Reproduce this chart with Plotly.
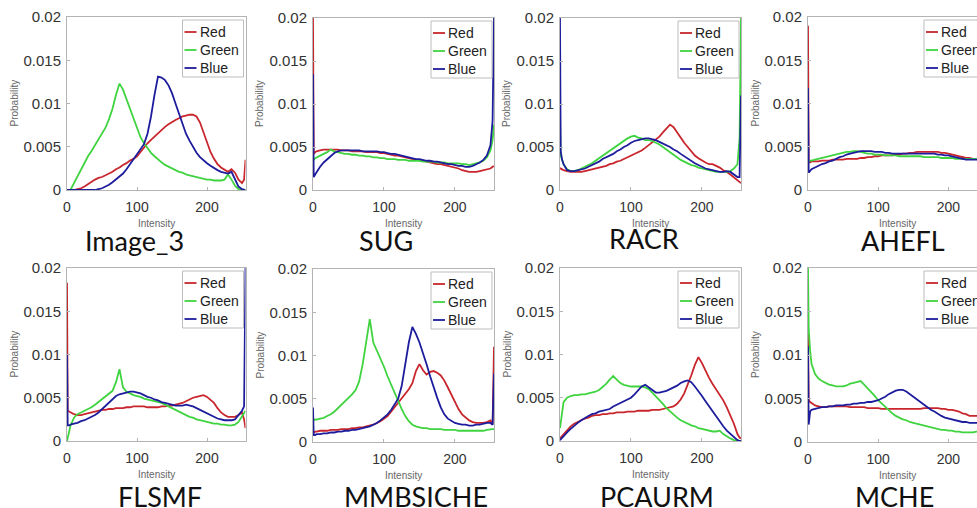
import plotly.graph_objects as go

# ---------------- data ----------------
intensity = [0, 1, 3, 5, 10, 15, 20, 25, 30, 35, 40, 45, 50, 55, 60, 65, 70, 75, 80, 85,
             90, 95, 100, 105, 110, 115, 120, 125, 130, 135, 140, 145, 150, 155, 160, 165,
             170, 175, 180, 185, 190, 195, 200, 205, 210, 215, 220, 225, 230, 235, 240, 245,
             250, 253, 255]

panel_titles = ["Image_3", "SUG", "RACR", "AHEFL", "FLSMF", "MMBSICHE", "PCAURM", "MCHE"]
channel_names = ["Red", "Green", "Blue"]

img3_red = [0, 0, 0, 0, 0, 0.0001, 0.0002, 0.0004, 0.0007, 0.001, 0.0012, 0.0014, 0.0015, 0.0017,
            0.0019, 0.0021, 0.0024, 0.0026, 0.0029, 0.0031, 0.0034, 0.0036, 0.0039, 0.0044, 0.005,
            0.0054, 0.0058, 0.0062, 0.0066, 0.007, 0.0073, 0.0076, 0.0079, 0.0081, 0.0083, 0.0085,
            0.0086, 0.0087, 0.0087, 0.0085, 0.0078, 0.0067, 0.0055, 0.0044, 0.0036, 0.003, 0.0026,
            0.0023, 0.0021, 0.0024, 0.002, 0.0012, 0.0008, 0.0012, 0.0035]
img3_green = [0, 0, 0, 0, 0.0008, 0.0016, 0.0024, 0.0032, 0.0039, 0.0045, 0.0052, 0.0058, 0.0065,
              0.0072, 0.0082, 0.0094, 0.011, 0.0123, 0.0116, 0.0105, 0.0093, 0.0081, 0.007, 0.0061,
              0.0054, 0.0048, 0.0043, 0.0039, 0.0035, 0.0032, 0.0029, 0.0027, 0.0025, 0.0023,
              0.0021, 0.002, 0.0018, 0.0017, 0.0016, 0.0015, 0.0014, 0.0013, 0.0012, 0.0012, 0.0011,
              0.0011, 0.0011, 0.0012, 0.0018, 0.0012, 0.0005, 0.0001, 0, 0, 0]
img3_blue = [0, 0, 0, 0, 0, 0, 0, 0, 0, 0, 0, 0.0001, 0.0002, 0.0004, 0.0006, 0.0009, 0.0012,
             0.0015, 0.0019, 0.0024, 0.003, 0.0036, 0.0042, 0.0047, 0.0053, 0.0065, 0.0085, 0.011,
             0.0131, 0.013, 0.0127, 0.0121, 0.0112, 0.01, 0.0088, 0.0076, 0.0065, 0.0057, 0.005,
             0.0043, 0.0038, 0.0034, 0.0031, 0.0028, 0.0025, 0.0023, 0.0021, 0.002, 0.0019, 0.0021,
             0.0012, 0.0004, 0.0001, 0, 0]

sug_red = [0.02, 0.0042, 0.0044, 0.0045, 0.0046, 0.0047, 0.0047, 0.0047, 0.0047, 0.0047, 0.0046,
           0.0046, 0.0046, 0.0045, 0.0045, 0.0045, 0.0045, 0.0044, 0.0044, 0.0044, 0.0044, 0.0043,
           0.0043, 0.0042, 0.0041, 0.004, 0.004, 0.0039, 0.0038, 0.0037, 0.0036, 0.0035, 0.0035,
           0.0034, 0.0033, 0.0032, 0.0031, 0.003, 0.003, 0.0029, 0.0028, 0.0027, 0.0026, 0.0025,
           0.0023, 0.0022, 0.0021, 0.0021, 0.0021, 0.0022, 0.0023, 0.0024, 0.0025, 0.0027, 0.0028]
sug_green = [0.0036, 0.0035, 0.0037, 0.0038, 0.004, 0.0042, 0.0044, 0.0047, 0.0045, 0.0044, 0.0043,
             0.0042, 0.0042, 0.0041, 0.0041, 0.004, 0.004, 0.0039, 0.0039, 0.0038, 0.0038, 0.0037,
             0.0037, 0.0036, 0.0036, 0.0036, 0.0035, 0.0035, 0.0035, 0.0034, 0.0034, 0.0034, 0.0034,
             0.0033, 0.0033, 0.0033, 0.0033, 0.0032, 0.0032, 0.0032, 0.0031, 0.0031, 0.0031, 0.0031,
             0.003, 0.003, 0.0029, 0.003, 0.0031, 0.0032, 0.0034, 0.0038, 0.0046, 0.0058, 0.0076]
sug_blue = [0.0135, 0.0015, 0.0018, 0.0021, 0.0027, 0.0032, 0.0036, 0.004, 0.0043, 0.0045, 0.0046,
            0.0046, 0.0046, 0.0046, 0.0046, 0.0046, 0.0045, 0.0045, 0.0045, 0.0045, 0.0045, 0.0044,
            0.0044, 0.0043, 0.0042, 0.0042, 0.0041, 0.004, 0.0039, 0.0038, 0.0037, 0.0036, 0.0036,
            0.0035, 0.0034, 0.0034, 0.0033, 0.0033, 0.0032, 0.0031, 0.003, 0.003, 0.0029, 0.0028,
            0.0028, 0.0027, 0.0027, 0.0028, 0.003, 0.0032, 0.0035, 0.004, 0.0052, 0.008, 0.02]

racr_red = [0.0025, 0.0025, 0.0024, 0.0023, 0.0022, 0.0021, 0.0021, 0.0021, 0.0021, 0.0022, 0.0023,
            0.0024, 0.0025, 0.0026, 0.0027, 0.0028, 0.003, 0.0031, 0.0033, 0.0034, 0.0036, 0.0038,
            0.004, 0.0042, 0.0044, 0.0046, 0.0049, 0.0052, 0.0055, 0.0058, 0.0062, 0.0067, 0.0072,
            0.0076, 0.0073, 0.0067, 0.006, 0.0055, 0.005, 0.0045, 0.004, 0.0037, 0.0034, 0.0032,
            0.003, 0.003, 0.0028, 0.0026, 0.0023, 0.0021, 0.0018, 0.0015, 0.0012, 0.001, 0.0008]
racr_green = [0.0085, 0.004, 0.0035, 0.003, 0.0024, 0.0022, 0.0022, 0.0023, 0.0025, 0.0027, 0.0029,
              0.0031, 0.0034, 0.0037, 0.004, 0.0043, 0.0046, 0.0049, 0.0052, 0.0055, 0.0058, 0.006,
              0.0062, 0.0063, 0.0061, 0.006, 0.0058, 0.0058, 0.0057, 0.0055, 0.0053, 0.005, 0.0047,
              0.0043, 0.004, 0.0037, 0.0035, 0.0033, 0.0031, 0.0029, 0.0028, 0.0026, 0.0025, 0.0024,
              0.0023, 0.0022, 0.0021, 0.0021, 0.0021, 0.0021, 0.0022, 0.0025, 0.003, 0.006, 0.02]
racr_blue = [0.02, 0.0045, 0.0035, 0.003, 0.0023, 0.0022, 0.0022, 0.0023, 0.0024, 0.0025, 0.0027,
             0.0029, 0.0031, 0.0033, 0.0036, 0.0038, 0.004, 0.0042, 0.0045, 0.0047, 0.005, 0.0052,
             0.0055, 0.0057, 0.0058, 0.0059, 0.006, 0.006, 0.0059, 0.0058, 0.0056, 0.0054, 0.0052,
             0.005, 0.0047, 0.0045, 0.0042, 0.0039, 0.0036, 0.0033, 0.0031, 0.0029, 0.0027, 0.0025,
             0.0024, 0.0023, 0.0022, 0.0021, 0.0021, 0.0022, 0.0021, 0.0018, 0.0015, 0.0015, 0.011]

ahefl_red = [0.019, 0.0032, 0.0032, 0.0033, 0.0033, 0.0033, 0.0034, 0.0034, 0.0034, 0.0035, 0.0035,
             0.0035, 0.0035, 0.0036, 0.0036, 0.0036, 0.0036, 0.0037, 0.0037, 0.0038, 0.0038, 0.0039,
             0.0039, 0.004, 0.004, 0.004, 0.004, 0.0041, 0.0041, 0.0042, 0.0042, 0.0043, 0.0043,
             0.0044, 0.0044, 0.0044, 0.0044, 0.0044, 0.0044, 0.0044, 0.0043, 0.0043, 0.0042, 0.0041,
             0.004, 0.0039, 0.0038, 0.0037, 0.0037, 0.0036, 0.0036, 0.0036, 0.0036, 0.0036, 0.0036]
ahefl_green = [0.003, 0.0033, 0.0034, 0.0034, 0.0035, 0.0036, 0.0037, 0.0038, 0.0039, 0.004, 0.0041,
               0.0042, 0.0043, 0.0044, 0.0044, 0.0045, 0.0045, 0.0044, 0.0043, 0.0042, 0.0042,
               0.0041, 0.0041, 0.0041, 0.004, 0.004, 0.004, 0.004, 0.0039, 0.0039, 0.0039, 0.0039,
               0.0039, 0.0039, 0.0039, 0.0038, 0.0038, 0.0038, 0.0038, 0.0038, 0.0037, 0.0037,
               0.0037, 0.0037, 0.0036, 0.0036, 0.0036, 0.0036, 0.0036, 0.0036, 0.0036, 0.0036,
               0.0036, 0.0036, 0.0036]
ahefl_blue = [0.0118, 0.002, 0.0022, 0.0024, 0.0026, 0.0028, 0.003, 0.0031, 0.0033, 0.0034, 0.0036,
              0.0038, 0.0039, 0.0041, 0.0042, 0.0043, 0.0044, 0.0045, 0.0045, 0.0045, 0.0045, 0.0044,
              0.0044, 0.0044, 0.0043, 0.0043, 0.0042, 0.0042, 0.0042, 0.0042, 0.0042, 0.0042, 0.0042,
              0.0042, 0.0042, 0.0042, 0.0042, 0.0042, 0.0042, 0.0041, 0.0041, 0.004, 0.004, 0.0039,
              0.0038, 0.0037, 0.0036, 0.0035, 0.0035, 0.0035, 0.0035, 0.0035, 0.0035, 0.0035, 0.0035]

flsmf_red = [0.0183, 0.0035, 0.0034, 0.0033, 0.0031, 0.003, 0.003, 0.0031, 0.0032, 0.0033, 0.0034,
             0.0035, 0.0036, 0.0036, 0.0037, 0.0037, 0.0038, 0.0038, 0.0038, 0.0039, 0.0039, 0.004,
             0.004, 0.004, 0.004, 0.0039, 0.0039, 0.0039, 0.0039, 0.004, 0.004, 0.0041, 0.0041,
             0.0042, 0.0043, 0.0044, 0.0046, 0.0048, 0.005, 0.0051, 0.0052, 0.0053, 0.0051, 0.0048,
             0.0044, 0.0038, 0.0033, 0.003, 0.0028, 0.0028, 0.0028, 0.003, 0.0033, 0.0025, 0.0015]
flsmf_green = [0, 0.0004, 0.0012, 0.0018, 0.0027, 0.0031, 0.0033, 0.0035, 0.0037, 0.0039, 0.0042,
               0.0045, 0.0048, 0.0051, 0.0054, 0.0058, 0.0068, 0.0083, 0.0062, 0.0057, 0.0055,
               0.0053, 0.0052, 0.0051, 0.0049, 0.0048, 0.0047, 0.0046, 0.0045, 0.0044, 0.0042, 0.004,
               0.0038, 0.0036, 0.0034, 0.0032, 0.003, 0.0028, 0.0027, 0.0025, 0.0024, 0.0023, 0.0022,
               0.0021, 0.002, 0.002, 0.0019, 0.0019, 0.0018, 0.0018, 0.0019, 0.0022, 0.0028, 0.0033,
               0.0035]
flsmf_blue = [0.0101, 0.0018, 0.0018, 0.0019, 0.002, 0.0021, 0.0023, 0.0024, 0.0026, 0.0028, 0.003,
              0.0033, 0.0037, 0.0041, 0.0045, 0.0049, 0.0052, 0.0054, 0.0055, 0.0056, 0.0057, 0.0057,
              0.0056, 0.0055, 0.0053, 0.0051, 0.005, 0.0048, 0.0047, 0.0045, 0.0044, 0.0043, 0.0042,
              0.0041, 0.0041, 0.0041, 0.0042, 0.0041, 0.004, 0.0038, 0.0036, 0.0034, 0.0032, 0.003,
              0.0028, 0.0026, 0.0025, 0.0024, 0.0024, 0.0024, 0.0025, 0.003, 0.0035, 0.004, 0.02]

mmb_red = [0.0011, 0.0011, 0.0012, 0.0012, 0.0013, 0.0013, 0.0013, 0.0014, 0.0014, 0.0014, 0.0015,
           0.0015, 0.0015, 0.0016, 0.0016, 0.0017, 0.0017, 0.0018, 0.0019, 0.002, 0.0022, 0.0024,
           0.0027, 0.003, 0.0035, 0.004, 0.0045, 0.005, 0.0055, 0.0061, 0.0068, 0.0082, 0.009,
           0.0083, 0.0078, 0.0081, 0.0082, 0.008, 0.0077, 0.0071, 0.0063, 0.0054, 0.0045, 0.0038,
           0.0032, 0.0028, 0.0025, 0.0023, 0.0022, 0.0022, 0.0022, 0.0023, 0.0025, 0.002, 0.011]
mmb_green = [0.0026, 0.0025, 0.0026, 0.0026, 0.0027, 0.0028, 0.003, 0.0032, 0.0035, 0.0039, 0.0043,
             0.0047, 0.005, 0.0055, 0.006, 0.007, 0.009, 0.0118, 0.0142, 0.0115, 0.0106, 0.0098,
             0.0087, 0.0076, 0.0066, 0.0056, 0.0047, 0.0038, 0.003, 0.0024, 0.002, 0.0018, 0.0017,
             0.0016, 0.0016, 0.0015, 0.0015, 0.0015, 0.0015, 0.0014, 0.0014, 0.0014, 0.0014, 0.0013,
             0.0013, 0.0013, 0.0013, 0.0013, 0.0013, 0.0013, 0.0013, 0.0014, 0.0015, 0.0015, 0.0015]
mmb_blue = [0.004, 0.0008, 0.0008, 0.0009, 0.0009, 0.001, 0.001, 0.0011, 0.0011, 0.0012, 0.0012,
            0.0013, 0.0013, 0.0014, 0.0014, 0.0015, 0.0016, 0.0017, 0.0018, 0.002, 0.0022, 0.0025,
            0.0028, 0.0032, 0.0037, 0.0043, 0.005, 0.0065, 0.009, 0.0115, 0.0133, 0.0125, 0.0115,
            0.0103, 0.009, 0.0076, 0.0063, 0.0051, 0.004, 0.0032, 0.0027, 0.0024, 0.0022, 0.0021,
            0.002, 0.002, 0.0019, 0.0019, 0.002, 0.002, 0.0021, 0.0022, 0.0022, 0.002, 0.0079]

pca_red = [0.0003, 0.0004, 0.0006, 0.0008, 0.0013, 0.0017, 0.002, 0.0022, 0.0024, 0.0026, 0.0027,
           0.0029, 0.003, 0.003, 0.0031, 0.0031, 0.0032, 0.0032, 0.0033, 0.0033, 0.0033, 0.0034,
           0.0034, 0.0034, 0.0035, 0.0035, 0.0035, 0.0035, 0.0036, 0.0036, 0.0036, 0.0037, 0.0038,
           0.0039, 0.004, 0.0043, 0.0048, 0.0055, 0.0065, 0.0076, 0.0088, 0.0097, 0.009, 0.0081,
           0.0073, 0.0066, 0.006, 0.0054, 0.0047, 0.0039, 0.003, 0.002, 0.0008, 0.0004, 0.0003]
pca_green = [0.0015, 0.0022, 0.0035, 0.0045, 0.005, 0.0052, 0.0053, 0.0053, 0.0054, 0.0054, 0.0055,
             0.0056, 0.0057, 0.0059, 0.0062, 0.0066, 0.0071, 0.0075, 0.0071, 0.0067, 0.0065, 0.0064,
             0.0063, 0.0063, 0.0063, 0.0063, 0.0062, 0.006, 0.0056, 0.0052, 0.0048, 0.0043, 0.0038,
             0.0034, 0.003, 0.0027, 0.0024, 0.0022, 0.002, 0.0018, 0.0017, 0.0015, 0.0014, 0.0013,
             0.0012, 0.0011, 0.0011, 0.0012, 0.0008, 0.0005, 0.0003, 0.0001, 0, 0, 0]
pca_blue = [0.0001, 0.0002, 0.0003, 0.0005, 0.001, 0.0014, 0.0018, 0.0021, 0.0024, 0.0027, 0.0029,
            0.0031, 0.0032, 0.0034, 0.0035, 0.0036, 0.0037, 0.004, 0.0042, 0.0044, 0.0046, 0.0048,
            0.005, 0.0054, 0.0058, 0.0063, 0.0065, 0.0062, 0.0058, 0.0056, 0.0056, 0.0057, 0.0058,
            0.006, 0.0062, 0.0064, 0.0067, 0.0069, 0.007, 0.0068, 0.0063, 0.0058, 0.0052, 0.0046,
            0.004, 0.0034, 0.0028, 0.0022, 0.0017, 0.0012, 0.0008, 0.0004, 0.0001, 0, 0]

mche_red = [0.0124, 0.0048, 0.0046, 0.0045, 0.0042, 0.0041, 0.004, 0.004, 0.0041, 0.0041, 0.0041,
            0.0041, 0.0041, 0.0041, 0.004, 0.004, 0.004, 0.004, 0.004, 0.0039, 0.0039, 0.0039,
            0.0039, 0.0038, 0.0038, 0.0038, 0.0038, 0.0038, 0.0038, 0.0038, 0.0038, 0.0038, 0.0038,
            0.0038, 0.0038, 0.0039, 0.0039, 0.0039, 0.0039, 0.0039, 0.0038, 0.0038, 0.0037, 0.0037,
            0.0036, 0.0035, 0.0033, 0.0032, 0.003, 0.003, 0.003, 0.003, 0.003, 0.003, 0.003]
mche_green = [0.02, 0.013, 0.0105, 0.009, 0.0078, 0.0073, 0.007, 0.0068, 0.0066, 0.0065, 0.0064,
              0.0064, 0.0064, 0.0065, 0.0067, 0.0068, 0.0069, 0.007, 0.0066, 0.0062, 0.0058, 0.0053,
              0.0048, 0.0044, 0.004, 0.0036, 0.0033, 0.003, 0.0028, 0.0026, 0.0025, 0.0023, 0.0022,
              0.0021, 0.002, 0.0019, 0.0018, 0.0017, 0.0016, 0.0015, 0.0014, 0.0014, 0.0013, 0.0013,
              0.0012, 0.0012, 0.0011, 0.0011, 0.0011, 0.0011, 0.0012, 0.0012, 0.0012, 0.0012, 0.0012]
mche_blue = [0.011, 0.002, 0.0035, 0.0037, 0.0038, 0.0039, 0.004, 0.004, 0.0041, 0.0041, 0.0042,
             0.0042, 0.0042, 0.0043, 0.0043, 0.0044, 0.0044, 0.0045, 0.0045, 0.0046, 0.0046, 0.0047,
             0.0048, 0.005, 0.0052, 0.0055, 0.0057, 0.0059, 0.006, 0.006, 0.0058, 0.0055, 0.0052,
             0.0048, 0.0045, 0.0042, 0.0039, 0.0037, 0.0035, 0.0032, 0.003, 0.0028, 0.0027, 0.0026,
             0.0025, 0.0024, 0.0023, 0.0023, 0.0022, 0.0022, 0.0022, 0.0022, 0.0022, 0.0022, 0.0022]

series = [
    (img3_red, img3_green, img3_blue),
    (sug_red, sug_green, sug_blue),
    (racr_red, racr_green, racr_blue),
    (ahefl_red, ahefl_green, ahefl_blue),
    (flsmf_red, flsmf_green, flsmf_blue),
    (mmb_red, mmb_green, mmb_blue),
    (pca_red, pca_green, pca_blue),
    (mche_red, mche_green, mche_blue),
]

# ---------------- layout geometry (pixels) ----------------
W, H = 977, 508
# left px of x=0, px of x=255, top px (y=0.02), bottom px (y=0)
geom = [
    (67, 245.5, 17, 190), (313, 494, 18, 190), (560, 741, 18, 190), (808, 987, 17, 190),
    (67, 245.5, 268, 441), (313, 494, 269, 442), (560, 741, 268, 441), (808, 987, 268, 442),
]
title_pos = [(134, 240), (386, 240), (644, 238), (903, 240),
             (160, 496), (416, 496), (657, 496), (894, 496)]

colors = ["#c8262c", "#3fd43f", "#1c1c9c"]
tick_font = dict(family="Liberation Sans, Arial, sans-serif", size=14, color="#333333")
axis_col = "#b4b4b4"


def px(x):
    return x / W


def py(y):
    return 1 - y / H


fig = go.Figure()
shapes = []
annotations = []

for i, (vals, (x0, x255, top, bot)) in enumerate(zip(series, geom)):
    n = i + 1
    xa = "x" if n == 1 else f"x{n}"
    ya = "y" if n == 1 else f"y{n}"
    for name, v, c in zip(channel_names, vals, colors):
        fig.add_trace(go.Scatter(x=intensity, y=v, mode="lines", name=name,
                                 line=dict(color=c, width=1.8), xaxis=xa, yaxis=ya,
                                 showlegend=False, hoverinfo="skip"))
    scale = (x255 - x0) / 255.0
    right_px = min(x255, W)
    xmax = (right_px - x0) / scale
    xkey = "xaxis" if n == 1 else f"xaxis{n}"
    ykey = "yaxis" if n == 1 else f"yaxis{n}"
    fig.update_layout({
        xkey: dict(domain=[px(x0), px(right_px)], range=[0, xmax], anchor=ya,
                   tickvals=[0, 100, 200], showgrid=False, zeroline=False, automargin=False,
                   showline=True, mirror=True, linecolor=axis_col, linewidth=1,
                   ticks="inside", ticklen=3, tickcolor=axis_col, tickfont=tick_font,
                   ticklabelstandoff=4),
        ykey: dict(domain=[py(bot), py(top)], range=[0, 0.02], anchor=xa, automargin=False,
                   dtick=0.005, showgrid=False, zeroline=False,
                   showline=True, mirror=(x255 <= W), linecolor=axis_col, linewidth=1,
                   ticks="inside", ticklen=3, tickcolor=axis_col,
                   tickfont=dict(tick_font, size=15), ticklabelstandoff=2),
    })
    # axis titles
    annotations.append(dict(text="Intensity", xref=xa, x=127.5, yref="paper",
                            y=py(bot + 33), showarrow=False, xanchor="center", yanchor="middle",
                            font=dict(family="Liberation Sans, Arial", size=10, color="#666666")))
    annotations.append(dict(text="Probability", xref="paper", x=px(x0 - 53), yref="paper",
                            y=py((top + bot) / 2), showarrow=False, textangle=-90,
                            xanchor="center", yanchor="middle",
                            font=dict(family="Liberation Sans, Arial", size=10, color="#666666")))
    # panel caption
    tx, ty = title_pos[i]
    annotations.append(dict(text=panel_titles[i], xref="paper", x=px(tx), yref="paper",
                            y=py(ty), showarrow=False, xanchor="center", yanchor="middle",
                            font=dict(family="Lato, Carlito, sans-serif", size=27, color="#111111")))
    # legend box
    bx1 = x255 - 2
    bx0 = bx1 - 61
    shapes.append(dict(type="rect", xref="paper", yref="paper", x0=px(bx0), x1=px(bx1),
                       y0=py(top + 60), y1=py(top + 3), line=dict(color="#bdbdbd", width=1),
                       fillcolor="white", layer="above"))
    for k, (name, c) in enumerate(zip(channel_names, colors)):
        yy = top + 15 + 18 * k
        shapes.append(dict(type="line", xref="paper", yref="paper", x0=px(bx0 + 2),
                           x1=px(bx0 + 14), y0=py(yy), y1=py(yy),
                           line=dict(color=c, width=1.8), layer="above"))
        annotations.append(dict(text=name, xref="paper", yref="paper", x=px(bx0 + 15),
                                y=py(yy), xanchor="left", yanchor="middle", showarrow=False,
                                font=dict(family="Liberation Sans, Arial", size=14,
                                          color="#222222")))

fig.update_layout(width=W, height=H, margin=dict(l=0, r=0, t=0, b=0, autoexpand=False),
                  paper_bgcolor="white", plot_bgcolor="white", showlegend=False,
                  shapes=shapes, annotations=annotations)

fig.write_html("out.html", config={"displayModeBar": False},
               post_script="document.body.style.margin='0';")
